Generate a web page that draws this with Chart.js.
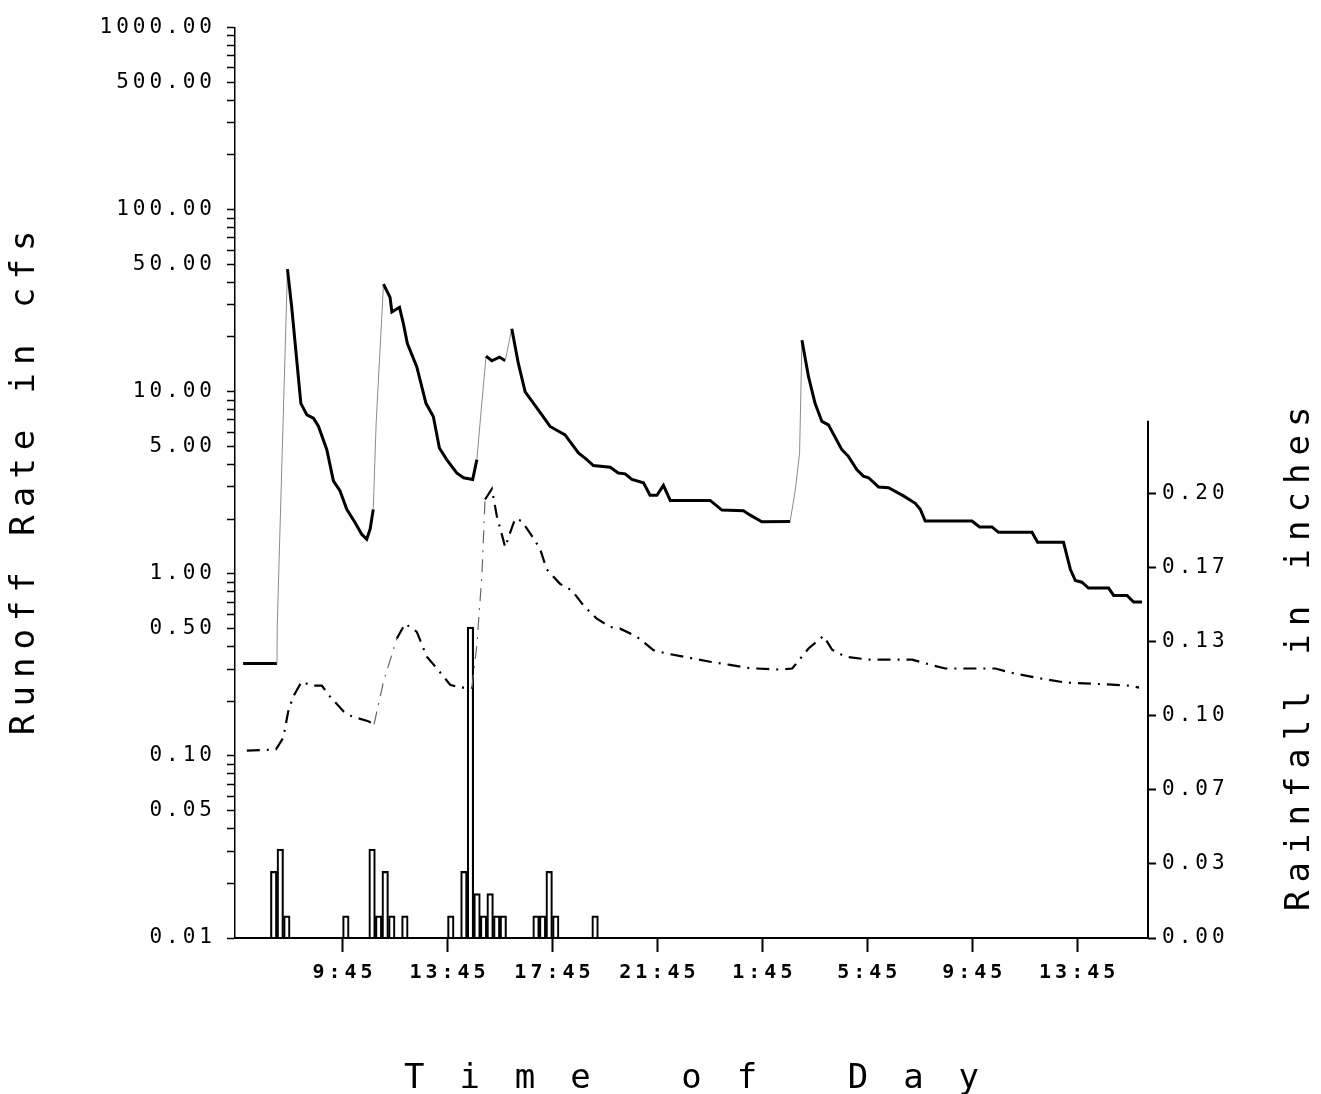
<!DOCTYPE html>
<html><head><meta charset="utf-8">
<script src="https://cdn.jsdelivr.net/npm/chart.js@4.4.1/dist/chart.umd.min.js"></script>
<style>html,body{margin:0;padding:0;background:#fff;} #wrap{width:1321px;height:1094px;}</style>
</head><body><div id="wrap"><canvas id="c" width="1321" height="1094"></canvas></div>
<script>
// ---- data (time in hours from midnight of day 1; day 2 = +24) ----
const obsTime = [5.96, 7.25, 7.26, 7.65, 7.81, 8.16, 8.39, 8.64, 8.83, 9.15, 9.40, 9.65, 9.91, 10.23, 10.48, 10.67, 10.80, 10.92, 11.03, 11.31, 11.56, 11.63, 11.92, 12.07, 12.22, 12.58, 12.93, 13.21, 13.44, 13.72, 14.10, 14.36, 14.71, 14.87, 14.99, 15.22, 15.44, 15.73, 15.95, 16.20, 16.45, 16.71, 17.21, 17.66, 18.23, 18.74, 19.06, 19.31, 19.95, 20.26, 20.52, 20.78, 21.22, 21.47, 21.73, 21.98, 22.24, 23.76, 24.21, 25.03, 25.29, 25.73, 26.81, 27.00, 27.17, 27.26, 27.51, 27.76, 28.02, 28.27, 28.78, 29.03, 29.35, 29.60, 29.80, 30.18, 30.56, 31.13, 31.58, 31.77, 31.96, 33.74, 34.03, 34.50, 34.75, 36.03, 36.24, 37.23, 37.49, 37.68, 37.93, 38.18, 38.95, 39.14, 39.65, 39.90, 40.22];
const obsFlow = [0.322, 0.322, 0.524, 47.2, 29.3, 8.64, 7.46, 7.16, 6.47, 4.81, 3.24, 2.86, 2.26, 1.91, 1.65, 1.55, 1.76, 2.26, 6.72, 39.0, 33.0, 27.4, 29.1, 23.6, 18.4, 13.7, 8.64, 7.31, 4.91, 4.24, 3.58, 3.37, 3.30, 4.24, 6.72, 15.7, 14.8, 15.5, 14.8, 22.2, 14.3, 10.0, 7.95, 6.45, 5.80, 4.61, 4.24, 3.93, 3.85, 3.58, 3.54, 3.30, 3.16, 2.70, 2.70, 3.06, 2.53, 2.53, 2.24, 2.22, 2.10, 1.93, 1.94, 2.85, 4.61, 19.2, 12.1, 8.64, 6.87, 6.58, 4.81, 4.42, 3.74, 3.44, 3.37, 3.00, 2.97, 2.68, 2.44, 2.26, 1.95, 1.95, 1.81, 1.81, 1.69, 1.69, 1.49, 1.49, 1.06, 0.919, 0.900, 0.835, 0.835, 0.761, 0.761, 0.700, 0.700];
const simTime = [6.10, 7.21, 7.49, 7.68, 7.87, 8.19, 8.58, 8.96, 9.27, 9.78, 10.10, 10.73, 10.95, 11.31, 11.82, 12.13, 12.58, 12.96, 13.34, 13.85, 14.23, 14.68, 14.87, 15.06, 15.18, 15.44, 15.63, 15.95, 16.14, 16.33, 16.58, 16.96, 17.28, 17.53, 18.04, 18.49, 18.93, 19.44, 19.95, 20.33, 20.97, 21.60, 22.11, 22.74, 23.76, 24.52, 25.29, 26.43, 26.89, 27.51, 28.08, 28.41, 28.91, 29.78, 31.46, 32.15, 32.72, 34.63, 35.20, 36.18, 37.29, 38.91, 39.77, 40.11];
const simFlow = [0.107, 0.1085, 0.126, 0.176, 0.212, 0.256, 0.243, 0.243, 0.212, 0.176, 0.165, 0.155, 0.149, 0.256, 0.441, 0.533, 0.480, 0.351, 0.303, 0.246, 0.237, 0.237, 0.408, 0.979, 2.56, 2.93, 2.08, 1.40, 1.69, 2.01, 1.95, 1.62, 1.37, 1.06, 0.881, 0.811, 0.671, 0.567, 0.511, 0.500, 0.451, 0.381, 0.365, 0.351, 0.329, 0.316, 0.303, 0.298, 0.302, 0.389, 0.456, 0.383, 0.351, 0.338, 0.338, 0.317, 0.302, 0.302, 0.287, 0.269, 0.253, 0.247, 0.243, 0.237];
const rainStart = [7.00, 7.25, 7.50, 9.75, 10.75, 11.00, 11.25, 11.50, 12.00, 13.75, 14.25, 14.50, 14.75, 15.00, 15.25, 15.50, 15.75, 17.00, 17.25, 17.50, 17.75, 19.25];
const rainDepth = [0.03, 0.04, 0.01, 0.01, 0.04, 0.01, 0.03, 0.01, 0.01, 0.01, 0.03, 0.14, 0.02, 0.01, 0.02, 0.01, 0.01, 0.01, 0.01, 0.03, 0.01, 0.01];
const rainInterval = 0.25;
const timeTicks = [9.75, 13.75, 17.75, 21.75, 25.75, 29.75, 33.75, 37.75];
const flowLabelTicks = [0.01, 0.05, 0.1, 0.5, 1, 5, 10, 50, 100, 500, 1000];
const rainTicks = [0, 1/30, 2/30, 3/30, 4/30, 5/30, 6/30];
const rainAxisTop = 0.233;

// ---- text rendering tweaks (plotter-like wide spacing) ----
const canvas = document.getElementById('c');
const ctx = canvas.getContext('2d');
const textStyle = {
  'Time of Day': {sp: 35},
  'Runoff Rate in cfs': {sp: 8},
  'Rainfall in inches': {sp: 8, flip: true, shift: -176}
};
const baseFill = ctx.fillText;
ctx.fillText = function(text, x, y) {
  const st = textStyle[text] || {sp: 4};
  this.save();
  try { this.letterSpacing = st.sp + 'px'; } catch (e) {}
  const a = this.textAlign;
  const dx = a === 'center' ? st.sp / 2 : (a === 'right' || a === 'end') ? st.sp : 0;
  if (st.flip) { this.rotate(Math.PI); x = -x + (st.shift || 0); y = -y; }
  baseFill.call(this, text, x + dx, y);
  this.restore();
};

Chart.defaults.font.family = "'DejaVu Sans Mono', 'Liberation Mono', monospace";
Chart.defaults.color = '#000';

function fmtTime(h) {
  const hh = Math.floor(h) % 24;
  const mm = Math.round((h - Math.floor(h)) * 60);
  return hh + ':' + String(mm).padStart(2, '0');
}
const faintRise = c => c.p1.parsed.y > c.p0.parsed.y * 1.4;

const rightAxisLine = {
  id: 'rightAxisLine',
  afterDatasetsDraw(chart) {
    const s = chart.scales.y2, c = chart.ctx;
    c.save();
    c.strokeStyle = '#000'; c.lineWidth = 2;
    c.beginPath();
    c.moveTo(s.left, s.getPixelForValue(0));
    c.lineTo(s.left, s.getPixelForValue(rainAxisTop));
    c.stroke();
    c.restore();
  }
};

new Chart(ctx, {
  type: 'line',
  data: {
    datasets: [
      {
        type: 'line', label: 'Observed runoff',
        data: obsTime.map((t, i) => ({x: t, y: obsFlow[i]})),
        yAxisID: 'y', borderColor: '#000', borderWidth: 3, pointRadius: 0, tension: 0,
        segment: {
          borderColor: c => faintRise(c) ? '#8a8a8a' : undefined,
          borderWidth: c => faintRise(c) ? 1 : undefined
        }
      },
      {
        type: 'line', label: 'Simulated runoff',
        data: simTime.map((t, i) => ({x: t, y: simFlow[i]})),
        yAxisID: 'y', borderColor: '#000', borderWidth: 2.2, borderDash: [13, 7, 2, 7],
        pointRadius: 0, tension: 0,
        segment: {
          borderColor: c => faintRise(c) ? '#666' : undefined,
          borderWidth: c => faintRise(c) ? 1.2 : undefined
        }
      },
      {
        type: 'bar', label: 'Rainfall',
        data: rainStart.map((t, i) => ({x: t + rainInterval / 2, y: rainDepth[i]})),
        yAxisID: 'y2', backgroundColor: 'rgba(0,0,0,0)', borderColor: '#000', borderWidth: 1.5,
        barPercentage: 1, categoryPercentage: 1
      }
    ]
  },
  options: {
    responsive: false, animation: false, events: [],
    layout: {padding: {top: 22, left: 0, right: 0, bottom: 0}},
    plugins: {legend: {display: false}, tooltip: {enabled: false}},
    scales: {
      x: {
        type: 'linear', position: 'bottom', min: 5.65, max: 40.45, offset: false,
        afterBuildTicks: s => { s.ticks = timeTicks.map(v => ({value: v})); },
        afterFit: s => { s.height = 156; },
        ticks: {autoSkip: false, maxRotation: 0, padding: 9, color: '#000',
                font: {size: 20, weight: 'bold'}, callback: v => fmtTime(v)},
        grid: {offset: false, drawOnChartArea: false, drawTicks: true, tickLength: 14, tickColor: '#000', tickWidth: 2},
        border: {display: true, color: '#000', width: 2},
        title: {display: true, text: 'Time of Day', color: '#000', font: {size: 34}, padding: {top: 0, bottom: -6}}
      },
      y: {
        type: 'logarithmic', position: 'left', min: 0.01, max: 1000,
        afterBuildTicks: s => {
          const t = [];
          for (let e = -2; e < 3; e++) for (let m = 1; m < 10; m++) t.push(+(m * Math.pow(10, e)).toPrecision(3));
          t.push(1000);
          s.ticks = t.map(v => ({value: v}));
        },
        afterFit: s => { s.width = 235; },
        ticks: {autoSkip: false, padding: 15, color: '#000', font: {size: 21},
                callback: v => flowLabelTicks.some(l => Math.abs(l - v) / l < 1e-6) ? Number(v).toFixed(2) : ''},
        grid: {drawOnChartArea: false, tickLength: 8, tickColor: '#000', tickWidth: 1.5},
        border: {color: '#000', width: 1.5},
        title: {display: true, text: 'Runoff Rate in cfs', color: '#000', font: {size: 34}, padding: {top: 5, bottom: 0}}
      },
      y2: {
        type: 'linear', position: 'right', min: 0, max: 0.41,
        afterBuildTicks: s => { s.ticks = rainTicks.map(v => ({value: v})); },
        afterFit: s => { s.width = 173; },
        ticks: {autoSkip: false, padding: 6, color: '#000', font: {size: 21}, callback: v => v.toFixed(2)},
        grid: {drawOnChartArea: false, tickLength: 8, tickColor: '#000', tickWidth: 2},
        border: {display: false},
        title: {display: true, text: 'Rainfall in inches', color: '#000', font: {size: 34}, padding: {top: 0, bottom: 0}}
      }
    }
  },
  plugins: [rightAxisLine]
});
</script></body></html>
